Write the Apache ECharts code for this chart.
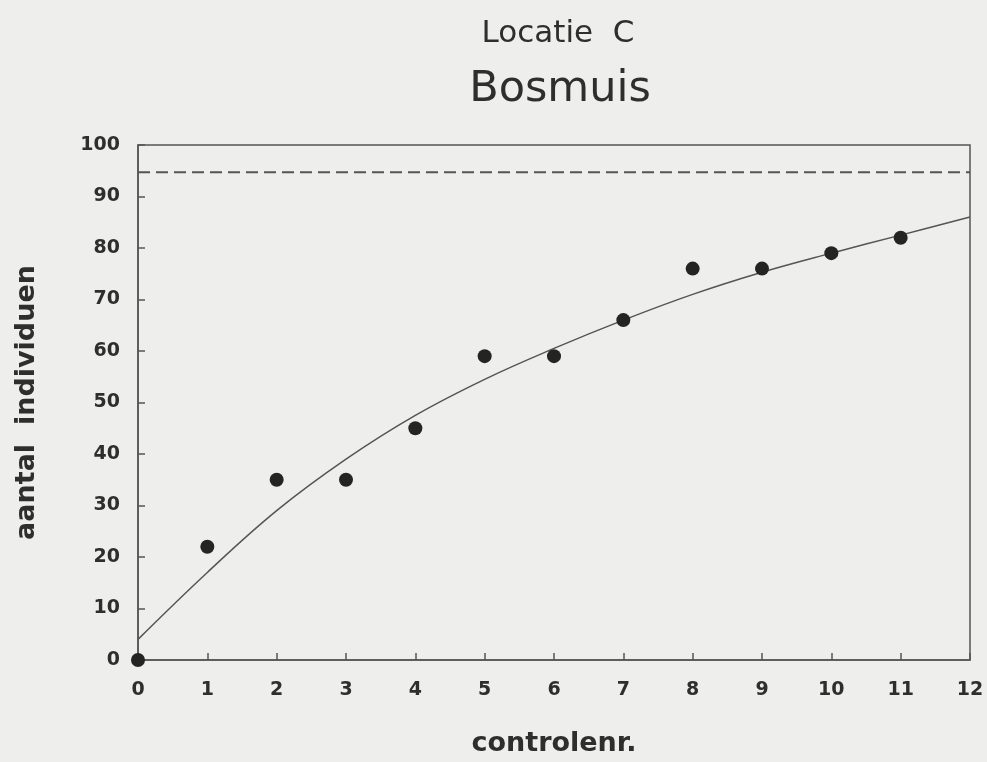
<!DOCTYPE html>
<html>
<head>
<meta charset="utf-8">
<script src="https://cdn.jsdelivr.net/npm/echarts@6/dist/echarts.min.js"></script>
<style>
  html, body { margin: 0; padding: 0; background: #eeeeec; }
  #chart { width: 987px; height: 762px; }
</style>
</head>
<body>
<div id="chart"></div>
<script>
// controlenr. en gevangen aantallen (punten)
const controles = [0, 1, 2, 3, 4, 5, 6, 7, 8, 9, 10, 11]
const aantallen = [0, 22, 35, 35, 45, 59, 59, 66, 76, 76, 79, 82]
const curveX = [0, 1, 2, 3, 4, 5, 6, 7, 8, 9, 10, 11, 12]
const curveY = [4, 17, 29, 39, 47.5, 54.5, 60.5, 66, 71, 75.3, 79, 82.5, 86]
// geschatte populatiegrootte (stippellijn)
const niveau = 94.7
const xTicks = ['0', '1', '2', '3', '4', '5', '6', '7', '8', '9', '10', '11', '12']
const yTicks = ['0', '10', '20', '30', '40', '50', '60', '70', '80', '90', '100']

const myChart = echarts.init(document.getElementById('chart'))
const ink = '#2e2e2e'
const labelFont = "'DejaVu Sans', Arial, sans-serif"

const option = {
  backgroundColor: '#eeeeec',
  animation: false,
  title: [
    {
      text: 'Locatie  C',
      left: 553, top: 13, textAlign: 'center',
      textStyle: {fontFamily: labelFont, fontSize: 31, fontWeight: 500, color: ink}
    },
    {
      text: 'Bosmuis',
      left: 555, top: 63, textAlign: 'center',
      textStyle: {fontFamily: labelFont, fontSize: 43, fontWeight: 500, color: ink}
    }
  ],
  grid: {
    left: 138, right: 17, top: 145, bottom: 100,
    show: true,
    borderColor: '#555',
    borderWidth: 1.5,
    backgroundColor: 'transparent'
  },
  xAxis: {
    type: 'value',
    min: 0, max: 12, interval: 1,
    name: 'controlenr.',
    nameLocation: 'middle',
    nameGap: 70,
    nameTextStyle: {fontFamily: labelFont, fontSize: 27, fontWeight: 'bold', color: ink},
    axisLine: {show: true, lineStyle: {color: '#555', width: 1.5}},
    axisTick: {show: true, inside: true, length: 7, lineStyle: {color: '#555', width: 1.5}},
    axisLabel: {
      margin: 21,
      fontFamily: labelFont, fontSize: 19, fontWeight: 'bold', color: ink,
      formatter: (v) => xTicks[v]
    },
    splitLine: {show: false}
  },
  yAxis: {
    type: 'value',
    min: 0, max: 100, interval: 10,
    name: 'aantal  individuen',
    nameLocation: 'middle',
    nameGap: 98,
    nameRotate: 90,
    nameTextStyle: {fontFamily: labelFont, fontSize: 27, fontWeight: 'bold', color: ink},
    axisLine: {show: true, lineStyle: {color: '#555', width: 1.5}},
    axisTick: {show: true, inside: true, length: 7, lineStyle: {color: '#555', width: 1.5}},
    axisLabel: {
      margin: 18,
      fontFamily: labelFont, fontSize: 19, fontWeight: 'bold', color: ink,
      formatter: (v) => yTicks[v / 10]
    },
    splitLine: {show: false}
  },
  series: [
    {
      name: 'niveau',
      type: 'line',
      showSymbol: false,
      silent: true,
      lineStyle: {color: '#555', width: 2, type: [12, 6]},
      data: [[0, niveau], [12, niveau]]
    },
    {
      name: 'curve',
      type: 'line',
      smooth: 0.4,
      showSymbol: false,
      lineStyle: {color: '#555', width: 1.5},
      data: curveX.map((x, i) => [x, curveY[i]])
    },
    {
      name: 'aantal',
      type: 'scatter',
      symbol: 'circle',
      symbolSize: 14,
      itemStyle: {color: '#242424', opacity: 1},
      clip: false,
      z: 5,
      data: controles.map((x, i) => [x, aantallen[i]])
    }
  ]
}
option && myChart.setOption(option)
</script>
</body>
</html>
